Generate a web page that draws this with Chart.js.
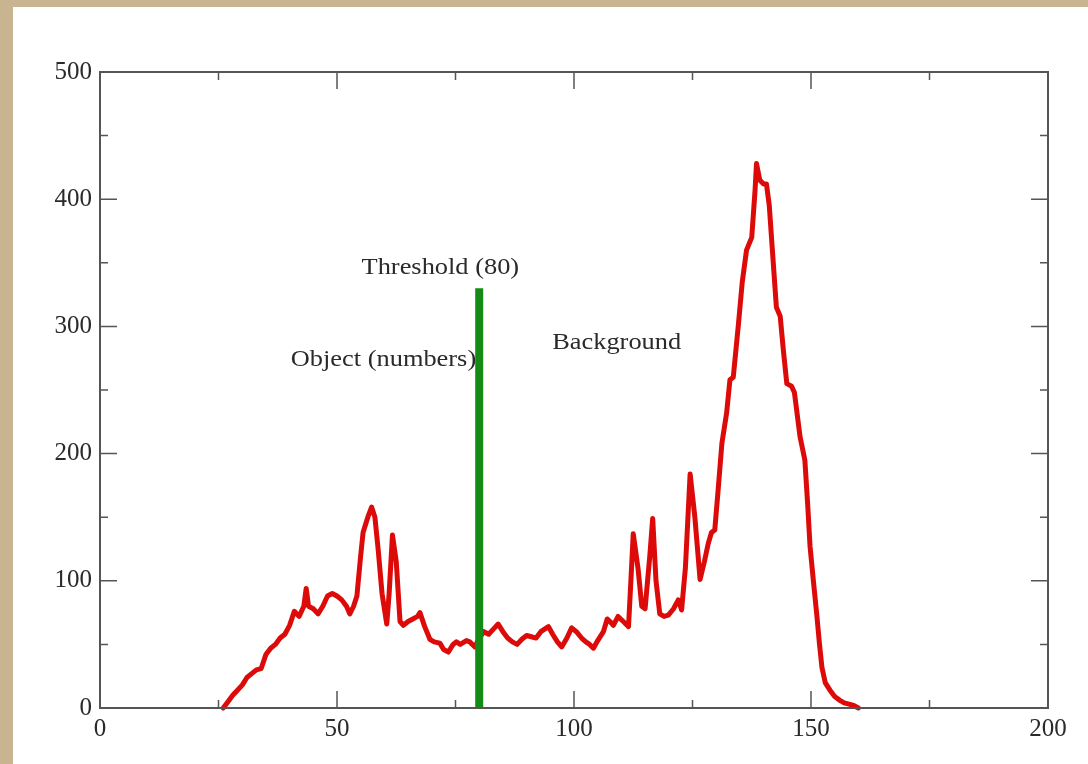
<!DOCTYPE html>
<html>
<head>
<meta charset="utf-8">
<script src="https://cdn.jsdelivr.net/npm/chart.js@4"></script>
<style>
  html, body { margin: 0; padding: 0; background: #c8b491; }
  #panel { position: absolute; left: 13px; top: 7px; width: 1075px; height: 757px; background: #fff; }
  canvas { display: block; }
</style>
</head>
<body>
<div id="panel"><canvas id="histChart" width="1075" height="757"></canvas></div>
<script>
// grey level histogram
const grayLevels = [26, 27, 28, 29, 30, 31, 32, 33, 34, 35, 36, 37, 38, 39, 40, 41, 42, 43, 43.5, 44,
  45, 46, 47, 48, 49, 50, 51, 52, 52.7, 53.5, 54.2, 55, 55.5, 56.5, 57.3, 58, 58.7, 59.5, 60.5, 61,
  61.7, 62.5, 63.3, 64, 65, 66, 67, 67.5, 68.5, 69.6, 70.5, 71.7, 72.5, 73.5, 74.5, 75.2, 76, 77.3, 78, 79.1,
  80, 81, 82, 83, 84, 85, 86, 87, 88, 89, 90, 91, 92, 93, 94.6, 95.5, 96.5, 97.4, 98.5, 99.5,
  100.5, 101.6, 102.5, 103.3, 104.1, 105, 106.2, 107, 107.6, 108.3, 109.3, 110.4, 111.5, 112, 112.5, 113.5, 114.3, 115, 116, 116.6,
  117.3, 118.1, 119, 119.9, 121, 122, 122.7, 123.5, 124.5, 125.5, 126.6, 127.5, 128.3, 129, 129.7, 130.4, 131.2, 132.2, 132.9, 133.6,
  134.7, 135.5, 136.4, 137.5, 138.2, 138.5, 139.2, 140, 140.6, 141.2, 141.7, 142.7, 143.5, 144.2, 144.9, 145.9, 146.5, 147.7, 148.7, 149.3,
  149.8, 150.5, 151.2, 151.8, 152.3, 153, 154, 155, 156.1, 157, 158, 159, 160];
const pixelCounts = [0, 5, 10, 14, 18, 24, 27, 30, 31, 42, 47, 50, 55, 58, 65, 76, 72, 80, 94, 80,
  78, 74, 80, 88, 90, 88, 85, 80, 74, 80, 88, 120, 138, 150, 158, 150, 124, 90, 66, 90,
  136, 115, 68, 65, 68, 70, 72, 75, 64, 54, 52, 51, 46, 44, 50, 52, 50, 53, 52, 48,
  55, 60, 58, 62, 66, 60, 55, 52, 50, 54, 57, 56, 55, 60, 64, 58, 52, 48, 55, 63,
  60, 55, 52, 50, 47, 53, 60, 70, 68, 65, 72, 68, 64, 100, 137, 110, 80, 78, 120, 149,
  100, 74, 72, 73, 78, 85, 77, 110, 184, 150, 101, 115, 129, 138, 140, 171, 208, 232, 258, 260,
  302, 335, 360, 370, 407, 428, 415, 412, 412, 395, 368, 315, 308, 280, 255, 253, 248, 213, 195, 160,
  127, 100, 74, 50, 32, 20, 14, 9, 6, 4, 3, 2, 0];

const thresholdX = [80, 80];
const thresholdY = [0, 330];

const xTicks = [0, 50, 100, 150, 200];
const yTicks = [0, 100, 200, 300, 400, 500];

const notes = [
  { text: 'Threshold (80)', x: 71.8, y: 346 },
  { text: 'Object (numbers)', x: 59.8, y: 274 },
  { text: 'Background', x: 109, y: 287 }
];

const serif = '"Liberation Serif", "DejaVu Serif", serif';

// inward ticks on all four sides plus top/right frame, and the text labels
const framePlugin = {
  id: 'frame',
  afterDatasetsDraw(chart) {
    const { ctx, chartArea: a, scales } = chart;
    const xs = scales.x, ys = scales.y;
    ctx.save();
    ctx.strokeStyle = '#555';
    ctx.lineWidth = 2;
    ctx.strokeRect(a.left, a.top, a.right - a.left, a.bottom - a.top);
    ctx.lineWidth = 1.5;
    ctx.beginPath();
    for (let v = 0; v <= 200; v += 25) {
      const px = xs.getPixelForValue(v);
      const len = v % 50 === 0 ? 17 : 8;
      ctx.moveTo(px, a.bottom); ctx.lineTo(px, a.bottom - len);
      ctx.moveTo(px, a.top); ctx.lineTo(px, a.top + len);
    }
    for (let v = 0; v <= 500; v += 50) {
      const py = ys.getPixelForValue(v);
      const len = v % 100 === 0 ? 17 : 8;
      ctx.moveTo(a.left, py); ctx.lineTo(a.left + len, py);
      ctx.moveTo(a.right, py); ctx.lineTo(a.right - len, py);
    }
    ctx.stroke();

    // labels look a little stretched sideways in the original
    ctx.fillStyle = '#2a2a2a';
    ctx.font = '24px ' + serif;
    ctx.textAlign = 'center';
    ctx.textBaseline = 'middle';
    notes.forEach(n => {
      const px = xs.getPixelForValue(n.x), py = ys.getPixelForValue(n.y);
      ctx.save();
      ctx.translate(px, py);
      ctx.scale(1.1, 1);
      ctx.fillText(n.text, 0, 0);
      ctx.restore();
    });
    ctx.restore();
  }
};

const ctx = document.getElementById('histChart').getContext('2d');
new Chart(ctx, {
  type: 'scatter',
  data: {
    datasets: [
      {
        label: 'Threshold',
        data: thresholdX.map((x, i) => ({ x: x, y: thresholdY[i] })),
        showLine: true,
        borderColor: '#158a15',
        borderWidth: 8,
        pointRadius: 0,
        order: 0
      },
      {
        label: 'Histogram',
        data: grayLevels.map((x, i) => ({ x: x, y: pixelCounts[i] })),
        showLine: true,
        borderColor: '#dd0a0a',
        borderWidth: 5,
        borderJoinStyle: 'round',
        borderCapStyle: 'round',
        pointRadius: 0,
        tension: 0,
        order: 1
      }
    ]
  },
  options: {
    responsive: false,
    animation: false,
    clip: false,
    layout: { padding: { top: 65, right: 40, left: 0, bottom: 0 } },
    plugins: {
      legend: { display: false },
      tooltip: { enabled: false }
    },
    scales: {
      x: {
        type: 'linear',
        min: 0,
        max: 200,
        afterBuildTicks: (s) => { s.ticks = xTicks.map(v => ({ value: v })); },
        afterFit: (s) => { s.height = 56; },
        grid: { display: false, drawTicks: false },
        border: { display: false },
        ticks: { color: '#2a2a2a', padding: 6, font: { family: serif, size: 25 } }
      },
      y: {
        type: 'linear',
        min: 0,
        max: 500,
        afterBuildTicks: (s) => { s.ticks = yTicks.map(v => ({ value: v })); },
        afterFit: (s) => { s.width = 87; },
        grid: { display: false, drawTicks: false },
        border: { display: false },
        ticks: { color: '#2a2a2a', padding: 8, font: { family: serif, size: 25 } }
      }
    }
  },
  plugins: [framePlugin]
});
</script>
</body>
</html>
